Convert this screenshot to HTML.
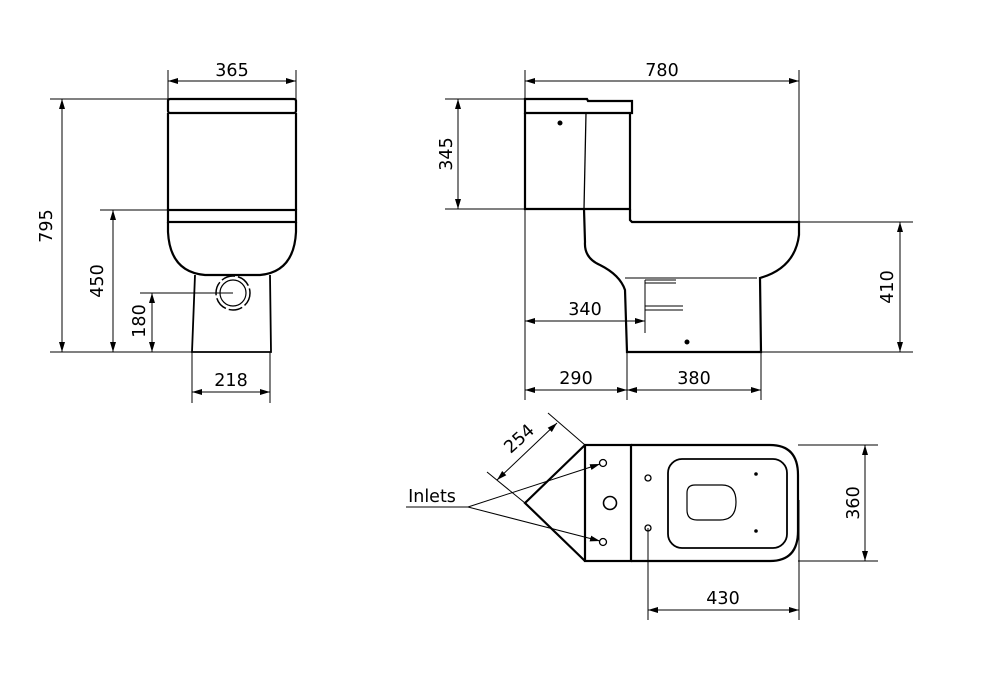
<!DOCTYPE html>
<html><head><meta charset="utf-8"><style>html,body{margin:0;padding:0;background:#fff}svg{display:block}</style></head>
<body>
<svg width="990" height="700" viewBox="0 0 990 700" xmlns="http://www.w3.org/2000/svg" font-family="DejaVu Sans, Liberation Sans, sans-serif" font-size="17.5" fill="none" stroke="#000">
<defs>
<marker id="a" viewBox="0 0 10 6" refX="10" refY="3" markerWidth="10" markerHeight="6" orient="auto-start-reverse" markerUnits="userSpaceOnUse"><path d="M0,0 L10,3 L0,6 z" fill="#000" stroke="none"/></marker>
</defs>
<g stroke-width="1">
<line x1="168" y1="70" x2="168" y2="100"/><line x1="296" y1="70" x2="296" y2="100"/>
<line x1="168" y1="81" x2="296" y2="81" marker-start="url(#a)" marker-end="url(#a)"/>
<line x1="50" y1="99" x2="168" y2="99"/><line x1="50" y1="352" x2="192" y2="352"/>
<line x1="62" y1="99" x2="62" y2="352" marker-start="url(#a)" marker-end="url(#a)"/>
<line x1="100" y1="210" x2="168" y2="210"/>
<line x1="113" y1="210" x2="113" y2="352" marker-start="url(#a)" marker-end="url(#a)"/>
<line x1="140" y1="293" x2="233" y2="293"/>
<line x1="152" y1="293" x2="152" y2="352" marker-start="url(#a)" marker-end="url(#a)"/>
<line x1="192" y1="352" x2="192" y2="403"/><line x1="270" y1="352" x2="270" y2="403"/>
<line x1="192" y1="392" x2="270" y2="392" marker-start="url(#a)" marker-end="url(#a)"/>
</g>
<g stroke-width="2.2">
<rect x="168" y="99" width="128" height="14" rx="2"/>
<line x1="168" y1="113" x2="168" y2="210"/><line x1="296" y1="113" x2="296" y2="210"/>
<rect x="168" y="210" width="128" height="12"/>
<path d="M168,222 L168,232 Q170,272 205,275 L260,275 Q294,272 296,232 L296,222"/>
<path d="M195,275 L192,352 L271,352 L270,275" stroke-width="1.8"/>
</g>
<circle cx="233" cy="293" r="17" stroke-width="1.5" stroke-dasharray="14 3"/>
<circle cx="233" cy="293" r="13" stroke-width="1.2"/>
<g stroke-width="1">
<line x1="525" y1="70" x2="525" y2="400"/><line x1="799" y1="70" x2="799" y2="222"/>
<line x1="525" y1="81" x2="799" y2="81" marker-start="url(#a)" marker-end="url(#a)"/>
<line x1="445" y1="99" x2="525" y2="99"/><line x1="445" y1="209" x2="525" y2="209"/>
<line x1="458" y1="99" x2="458" y2="209" marker-start="url(#a)" marker-end="url(#a)"/>
<line x1="799" y1="222" x2="913" y2="222"/><line x1="761" y1="352" x2="913" y2="352"/>
<line x1="900" y1="222" x2="900" y2="352" marker-start="url(#a)" marker-end="url(#a)"/>
<line x1="627" y1="352" x2="627" y2="400"/><line x1="761" y1="352" x2="761" y2="400"/>
<line x1="525" y1="390" x2="627" y2="390" marker-start="url(#a)" marker-end="url(#a)"/>
<line x1="627" y1="390" x2="761" y2="390" marker-start="url(#a)" marker-end="url(#a)"/>
<line x1="525" y1="321" x2="645" y2="321" marker-start="url(#a)" marker-end="url(#a)"/>
<line x1="625" y1="278" x2="757" y2="278"/>
<line x1="645" y1="280" x2="645" y2="333"/>
<line x1="645" y1="280" x2="676" y2="280"/><line x1="645" y1="283" x2="676" y2="283"/>
<line x1="645" y1="306" x2="683" y2="306"/><line x1="645" y1="310" x2="683" y2="310"/>
</g>
<g stroke-width="2.2">
<path d="M525,113 L525,99 L587,99 L588,101 L632,101 L632,113 Z"/>
<path d="M525,113 L525,209 L630,209 L630,113"/>
<path d="M630,209 L630,220 L632,222 L799,222 L799,235 Q795,268 760,278 L761,352 L627,352 L625,290 Q620,275 600,265 Q584,258 585,242 L584,209"/>
<line x1="586" y1="113" x2="584" y2="209" stroke-width="1.3"/>
</g>
<circle cx="560" cy="123" r="2" fill="#000"/>
<circle cx="687" cy="342" r="2" fill="#000"/>
<g stroke-width="1">
<line x1="798" y1="445" x2="878" y2="445"/><line x1="798" y1="561" x2="878" y2="561"/>
<line x1="865" y1="445" x2="865" y2="561" marker-start="url(#a)" marker-end="url(#a)"/>
<line x1="648" y1="528" x2="648" y2="620"/><line x1="799" y1="500" x2="799" y2="620"/>
<line x1="648" y1="610" x2="799" y2="610" marker-start="url(#a)" marker-end="url(#a)"/>
<line x1="497" y1="480" x2="557" y2="423" marker-start="url(#a)" marker-end="url(#a)"/>
<line x1="487" y1="472" x2="525" y2="503"/>
<line x1="548" y1="413" x2="585" y2="445"/>
<line x1="406" y1="507" x2="468" y2="507"/>
<line x1="468" y1="507" x2="600" y2="464" marker-end="url(#a)"/>
<line x1="468" y1="507" x2="600" y2="541" marker-end="url(#a)"/>
</g>
<g stroke-width="2.2">
<path d="M585,445 L525,503 L585,561"/>
<rect x="585" y="445" width="46" height="116"/>
<path d="M631,445 L770,445 Q798,445 798,475 L798,531 Q798,561 770,561 L631,561"/>
</g>
<g stroke-width="1.8">
<rect x="668" y="459" width="119" height="89" rx="14"/>
<path d="M695,485 L722,485 Q736,485 736,502 Q736,520 720,520 L697,520 Q687,520 687,510 L687,493 Q687,485 695,485 Z" stroke-width="1.2"/>
</g>
<g stroke-width="1.3">
<circle cx="603" cy="463" r="3.5"/><circle cx="603" cy="542" r="3.5"/>
<circle cx="610" cy="503" r="6.5" stroke-width="1.6"/>
<circle cx="648" cy="478" r="3"/><circle cx="648" cy="528" r="3"/>
</g>
<circle cx="756" cy="474" r="1.3" fill="#000"/><circle cx="756" cy="531" r="1.3" fill="#000"/>
<g fill="#000" stroke="none" text-anchor="middle">
<text x="232" y="76">365</text>
<text x="231" y="386">218</text>
<text transform="translate(52,226) rotate(-90)">795</text>
<text transform="translate(103,281) rotate(-90)">450</text>
<text transform="translate(145,321) rotate(-90)">180</text>
<text x="662" y="76">780</text>
<text transform="translate(452,154) rotate(-90)">345</text>
<text transform="translate(893,287) rotate(-90)">410</text>
<text x="585" y="315">340</text>
<text x="576" y="384">290</text>
<text x="694" y="384">380</text>
<text transform="translate(859,503) rotate(-90)">360</text>
<text x="723" y="604">430</text>
<text transform="translate(523,443) rotate(-42)">254</text>
<text x="432" y="502">Inlets</text>
</g>
</svg>
</body></html>
